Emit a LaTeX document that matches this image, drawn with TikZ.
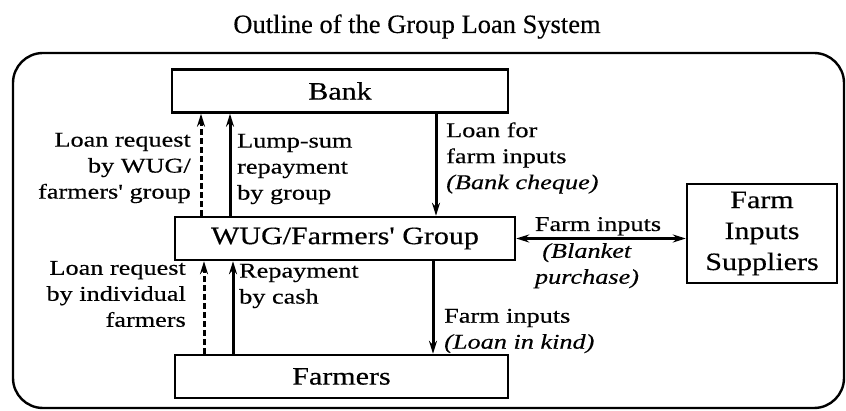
\documentclass[tikz,border=0pt]{standalone}
\usepackage{fontspec}
\setmainfont{Liberation Serif}[FakeBold=0.3]
\newfontfamily\widerm{Liberation Serif}[FakeStretch=1.25,FakeBold=0.4]
\newfontfamily\boxrm{Liberation Serif}[FakeStretch=1.2,FakeBold=0.4]
\usetikzlibrary{arrows.meta}

\begin{document}
\begin{tikzpicture}[x=1pt,y=-1pt,
  flowtip/.tip={Stealth[length=13pt,width=8pt]},
  box/.style={draw,line width=2.4pt,minimum height=43pt,inner sep=0pt,font=\boxrm\fontsize{25}{31}\selectfont},
  flow/.style={line width=3pt,-flowtip},
  req/.style={flow,dash pattern=on 6pt off 3pt},
  lbl/.style={inner sep=0pt,font=\widerm\fontsize{21}{26}\selectfont}]
\useasboundingbox (0,0) rectangle (846,411);

\node[font=\fontsize{26.5}{30}\selectfont,anchor=base] (title) at (417,33) {Outline of the Group Loan System};
\draw[line width=2.4pt,rounded corners=30pt] (13,53) rectangle (844,408);

% boxes
\node[box,minimum width=336pt] (bank) at (340,91) {Bank};
\node[box,minimum width=340pt] (wug) at (345,238.5) {WUG/Farmers' Group};
\node[box,minimum width=333pt] (farmers) at (341.5,376.5) {Farmers};
\node[box,minimum width=150pt,minimum height=99pt,align=center] (fis) at (762,233.5) {Farm\\Inputs\\Suppliers};

% flows between bank and group
\draw[req] (201,0 |- wug.north) -- (201,0 |- bank.south);
\draw[flow] (230,0 |- wug.north) -- (230,0 |- bank.south);
\draw[flow] (436,0 |- bank.south) -- (436,0 |- wug.north);

% flows between group and farmers
\draw[req] (204,0 |- farmers.north) -- (204,0 |- wug.south);
\draw[flow] (233,0 |- farmers.north) -- (233,0 |- wug.south);
\draw[flow] (433,0 |- wug.south) -- (433,0 |- farmers.north);

% group and suppliers
\draw[line width=3pt,flowtip-flowtip] (wug.east) -- (fis.west |- wug.east);

% labels
\node[lbl,anchor=east,align=right] (reqtop) at (191,168) {Loan request\\by WUG/\\farmers' group};
\node[lbl,anchor=west,align=left] (lump) at (237,169) {Lump-sum\\repayment\\by group};
\node[lbl,anchor=west,align=left] (loanfor) at (446,158) {Loan for\\farm inputs\\\textit{(Bank cheque)}};
\node[lbl,anchor=base] (inputs) at (598,231) {Farm inputs};
\node[lbl,anchor=north,align=center] (blanket) at (587,243) {\textit{(Blanket}\\\textit{purchase)}};
\node[lbl,anchor=east,align=right] (reqbot) at (186,294) {Loan request\\by individual\\farmers};
\node[lbl,anchor=west,align=left] (repay) at (239,286) {Repayment\\by cash};
\node[lbl,anchor=west,align=left] (inkind) at (444,331) {Farm inputs\\\textit{(Loan in kind)}};
\end{tikzpicture}
\end{document}
